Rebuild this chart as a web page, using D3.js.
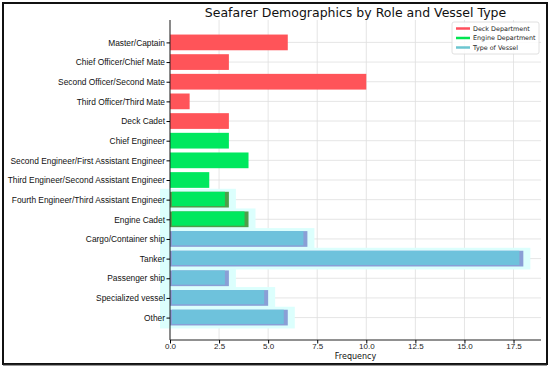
<!DOCTYPE html>
<html>
<head>
<meta charset="utf-8">
<script src="https://cdn.jsdelivr.net/npm/d3@7"></script>
<style>
    body { margin: 0; background: #ffffff; }
    svg { font-family: "DejaVu Sans", sans-serif; display: block; }
</style>
</head>
<body>
<svg></svg>
<script>
let deckRoles = ["Master/Captain", "Chief Officer/Chief Mate", "Second Officer/Second Mate", "Third Officer/Third Mate", "Deck Cadet"];
let deckCounts = [6, 3, 10, 1, 3];

let engineRoles = ["Chief Engineer", "Second Engineer/First Assistant Engineer", "Third Engineer/Second Assistant Engineer", "Fourth Engineer/Third Assistant Engineer", "Engine Cadet"];
let engineCounts = [3, 4, 2, 3, 4];

let vesselTypes = ["Cargo/Container ship", "Tanker", "Passenger ship", "Specialized vessel", "Other"];
let vesselCounts = [7, 18, 3, 5, 6];

let xTicks = [0, 2.5, 5, 7.5, 10, 12.5, 15, 17.5];

// rows that carry the cyan glow in the original picture
let glowRows = ["Fourth Engineer/Third Assistant Engineer", "Engine Cadet"].concat(vesselTypes);

let width = 550;
let height = 368;
let plotLeft = 170;
let plotRight = 541;
let plotTop = 20;
let plotBottom = 340;

let groups = [
    {name: "Deck Department", color: "#ff5459", shade: "#c8584f", legend: "#ff4f5c", cats: deckRoles, vals: deckCounts},
    {name: "Engine Department", color: "#00e85e", shade: "#4f9e4a", legend: "#00e650", cats: engineRoles, vals: engineCounts},
    {name: "Type of Vessel", color: "#6ec2dc", shade: "#8a9fd6", legend: "#6cc6d0", cats: vesselTypes, vals: vesselCounts}
];

let rows = [];
groups.forEach((g) => {
    g.cats.forEach((c, i) => rows.push({cat: c, value: g.vals[i], group: g}));
});

let svg = d3.select("svg")
            .attr("width", width)
            .attr("height", height);

// figure frame
svg.append("rect")
   .attr("x", 3)
   .attr("y", 3)
   .attr("width", width - 6)
   .attr("height", height - 7)
   .attr("fill", "#ffffff")
   .attr("stroke", "#111")
   .attr("stroke-width", 2);

svg.append("line")
   .attr("x1", 3)
   .attr("x2", width - 3)
   .attr("y1", height - 3)
   .attr("y2", height - 3)
   .attr("stroke", "#333")
   .attr("stroke-width", 1);

let maxVal = d3.max(rows, (d) => d.value);

let xScale = d3.scaleLinear()
               .domain([0, maxVal * 1.05])
               .range([plotLeft, plotRight]);

// matplotlib style: bars span i-0.4..i+0.4, 5% margin each side
let n = rows.length;
let span = (n - 1) + 0.8;
let yScale = d3.scaleLinear()
               .domain([-0.4 - span * 0.05, n - 1 + 0.4 + span * 0.05])
               .range([plotTop, plotBottom]);

let bandH = yScale(0.4) - yScale(-0.4);

// grid
svg.append("g")
   .selectAll("line")
   .data(xTicks)
   .enter()
   .append("line")
   .attr("x1", (d) => xScale(d))
   .attr("x2", (d) => xScale(d))
   .attr("y1", plotTop)
   .attr("y2", plotBottom)
   .attr("stroke", "#dedede")
   .attr("stroke-width", 0.8);

svg.append("g")
   .selectAll("line")
   .data(rows)
   .enter()
   .append("line")
   .attr("x1", plotLeft)
   .attr("x2", plotRight)
   .attr("y1", (d, i) => yScale(i))
   .attr("y2", (d, i) => yScale(i))
   .attr("stroke", "#dedede")
   .attr("stroke-width", 0.8);

let glowData = rows.map((d, i) => ({d: d, i: i})).filter((r) => glowRows.includes(r.d.cat));

// cyan glow
svg.append("g")
   .selectAll("rect")
   .data(glowData)
   .enter()
   .append("rect")
   .attr("x", plotLeft - 10)
   .attr("y", (r) => yScale(r.i - 0.4) - 3)
   .attr("width", (r) => xScale(r.d.value) - plotLeft + 17)
   .attr("height", bandH + 6)
   .attr("fill", "#dcfffd");

// darker base under glowing bars
svg.append("g")
   .selectAll("rect")
   .data(glowData)
   .enter()
   .append("rect")
   .attr("x", plotLeft)
   .attr("y", (r) => yScale(r.i - 0.4))
   .attr("width", (r) => xScale(r.d.value) - plotLeft)
   .attr("height", bandH)
   .attr("fill", (r) => r.d.group.shade);

// bars
svg.append("g")
   .selectAll("rect")
   .data(rows)
   .enter()
   .append("rect")
   .attr("x", (d) => glowRows.includes(d.cat) ? plotLeft + 2 : plotLeft)
   .attr("y", (d, i) => yScale(i - 0.4))
   .attr("width", (d) => xScale(d.value) - plotLeft - (glowRows.includes(d.cat) ? 6 : 0))
   .attr("height", (d) => glowRows.includes(d.cat) ? bandH - 1.5 : bandH)
   .attr("fill", (d) => d.group.color);

// axes
let xAxis = svg.append("g")
               .attr("transform", "translate(0," + plotBottom + ")")
               .call(d3.axisBottom(xScale).tickValues(xTicks).tickFormat(d3.format(".1f")).tickSize(3.5));

xAxis.select(".domain")
     .attr("d", "M" + plotLeft + ",0H" + plotRight)
     .attr("stroke", "#222")
     .attr("stroke-width", 1);

xAxis.selectAll("text")
     .attr("font-size", 8)
     .attr("fill", "#222")
     .attr("y", 3)
     .attr("dy", "0.71em");

let yAxis = svg.append("g")
               .attr("transform", "translate(" + plotLeft + ",0)")
               .call(d3.axisLeft(yScale).tickValues(d3.range(n)).tickFormat((i) => rows[i].cat).tickSize(3.5));

yAxis.select(".domain")
     .attr("d", "M0," + plotTop + "V" + plotBottom)
     .attr("stroke", "#222")
     .attr("stroke-width", 1);

yAxis.selectAll("text")
     .attr("font-size", 8.4)
     .attr("fill", "#111")
     .attr("x", -5);

svg.append("text")
   .attr("x", (plotLeft + plotRight) / 2)
   .attr("y", 359)
   .attr("text-anchor", "middle")
   .attr("font-size", 8)
   .attr("fill", "#111")
   .text("Frequency");

svg.append("text")
   .attr("x", (plotLeft + plotRight) / 2)
   .attr("y", 17)
   .attr("text-anchor", "middle")
   .attr("font-size", 12.5)
   .attr("fill", "#111")
   .text("Seafarer Demographics by Role and Vessel Type");

// legend
let legend = svg.append("g")
                .attr("transform", "translate(452,22)");

legend.append("rect")
      .attr("width", 87)
      .attr("height", 32)
      .attr("rx", 2)
      .attr("fill", "#ffffff")
      .attr("fill-opacity", 0.85)
      .attr("stroke", "#d8d8d8")
      .attr("stroke-width", 0.8);

let items = legend.selectAll(".item")
                  .data(groups)
                  .enter()
                  .append("g")
                  .attr("transform", (d, i) => "translate(0," + (6.5 + i * 9.5) + ")");

items.append("line")
     .attr("x1", 4)
     .attr("x2", 18)
     .attr("stroke", (d) => d.legend)
     .attr("stroke-width", 2.5);

items.append("text")
      .attr("x", 21)
      .attr("dy", "0.33em")
      .attr("font-size", 6.4)
      .attr("fill", "#222")
      .text((d) => d.name);
</script>
</body>
</html>
